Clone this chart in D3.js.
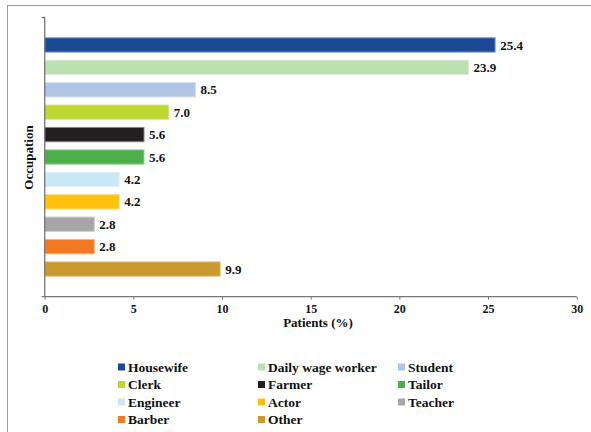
<!DOCTYPE html>
<html>
<head>
<meta charset="utf-8">
<script src="https://cdn.jsdelivr.net/npm/d3@7"></script>
<style>
  html, body { margin: 0; padding: 0; background: #fff; }
  svg { display: block; }
  text { font-family: "Liberation Serif", "Times New Roman", serif; font-weight: bold; fill: #111; }
</style>
</head>
<body>
<svg id="chart" width="591" height="432"></svg>
<script>
const categories = ["Housewife", "Daily wage worker", "Student", "Clerk", "Farmer", "Tailor",
                    "Engineer", "Actor", "Teacher", "Barber", "Other"];
const values = [25.4, 23.9, 8.5, 7.0, 5.6, 5.6, 4.2, 4.2, 2.8, 2.8, 9.9];
const colors = ["#1c4896", "#bde0b0", "#b0c4e6", "#bdd631", "#231f20", "#4caf49",
                "#c8e8f8", "#ffc20f", "#a6a6a6", "#f37822", "#cb9a2f"];
const xTicks = [0, 5, 10, 15, 20, 25, 30];

const svg = d3.select("#chart");

// outer frame (cropped at right/bottom)
svg.append("rect").attr("x", 7.5).attr("y", 5.5).attr("width", 700).attr("height", 600)
  .attr("fill", "none").attr("stroke", "#9a9a9a").attr("stroke-width", 1);

const x = d3.scaleLinear().domain([0, 30]).range([44.7, 576.7]);
const y = d3.scaleBand().domain(categories).range([33.75, 280.25]).paddingInner(0.36).paddingOuter(0.18);

const axisY0 = 296.7;
const axisTop = 17.5;

// bars
svg.selectAll("rect.bar").data(categories).enter().append("rect")
  .attr("class", "bar")
  .attr("x", x(0))
  .attr("y", d => y(d))
  .attr("width", (d, i) => x(values[i]) - x(0))
  .attr("height", y.bandwidth())
  .attr("fill", (d, i) => colors[i])
  .attr("stroke", (d, i) => d3.interpolateRgb(colors[i], "#fff")(0.45))
  .attr("stroke-width", 1);

// value labels
svg.selectAll("text.val").data(categories).enter().append("text")
  .attr("class", "val")
  .attr("x", (d, i) => x(values[i]) + 5)
  .attr("y", d => y(d) + y.bandwidth() / 2)
  .attr("dy", "0.35em")
  .attr("font-size", 13)
  .text((d, i) => values[i].toFixed(1));

// x axis
const xAxis = d3.axisBottom(x).tickValues(xTicks).tickSize(3).tickPadding(5)
  .tickFormat(d3.format("d"));
const gx = svg.append("g").attr("transform", `translate(0,${axisY0})`).call(xAxis);
gx.select(".domain").attr("stroke", "#777").attr("stroke-width", 1.3)
  .attr("d", `M${x(0) - 3},0H${x(30)}`);
gx.selectAll(".tick line").attr("stroke", "#777").attr("stroke-width", 1);
gx.selectAll(".tick text").attr("font-size", 12).attr("font-family", "Liberation Serif, serif")
  .attr("font-weight", "bold").attr("fill", "#333");

// y axis line with end tick
svg.append("path")
  .attr("d", `M${x(0) - 3},${axisTop}H${x(0)}V${axisY0}`)
  .attr("fill", "none").attr("stroke", "#777").attr("stroke-width", 1.3);

// axis titles
svg.append("text").attr("x", 318).attr("y", 327)
  .attr("text-anchor", "middle").attr("font-size", 13).text("Patients (%)");
svg.append("text")
  .attr("transform", "translate(33,157.5) rotate(-90)")
  .attr("text-anchor", "middle").attr("font-size", 13).text("Occupation");

// legend
const colX = [118, 258, 398];
const rowY = [367, 384.5, 402, 419.5];
const lg = svg.selectAll("g.lg").data(categories).enter().append("g")
  .attr("class", "lg")
  .attr("transform", (d, i) => `translate(${colX[i % 3]},${rowY[Math.floor(i / 3)]})`);
lg.append("rect").attr("x", 0).attr("y", -3.5).attr("width", 7).attr("height", 7)
  .attr("fill", (d, i) => colors[i]);
lg.append("text").attr("x", 10).attr("y", 0).attr("dy", "0.35em")
  .attr("font-size", 13.5).text(d => d);
</script>
</body>
</html>
